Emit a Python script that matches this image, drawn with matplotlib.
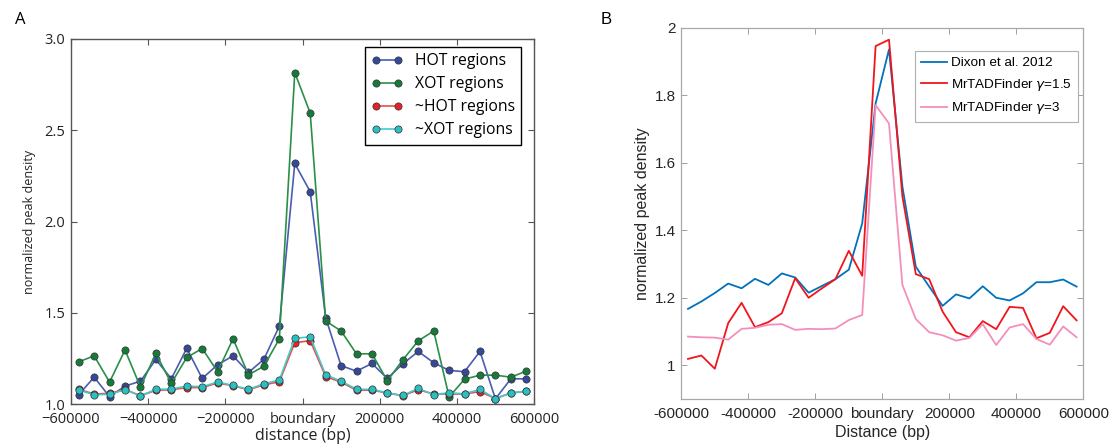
import matplotlib
matplotlib.use("Agg")
import matplotlib.pyplot as plt
import numpy as np

# ---------------- data ----------------
positions = [-580000, -540000, -500000, -460000, -420000, -380000, -340000, -300000,
             -260000, -220000, -180000, -140000, -100000, -60000, -20000, 20000,
             60000, 100000, 140000, 180000, 220000, 260000, 300000, 340000,
             380000, 420000, 460000, 500000, 540000, 580000]

hot = [1.051, 1.147, 1.040, 1.098, 1.125, 1.244, 1.138, 1.305, 1.140, 1.215,
       1.264, 1.173, 1.245, 1.427, 2.318, 2.163, 1.473, 1.210, 1.180, 1.222,
       1.140, 1.220, 1.288, 1.226, 1.184, 1.177, 1.288, 1.028, 1.138, 1.138]
xot = [1.231, 1.264, 1.120, 1.296, 1.093, 1.277, 1.113, 1.255, 1.304, 1.177,
       1.357, 1.160, 1.207, 1.357, 2.816, 2.594, 1.455, 1.400, 1.275, 1.275,
       1.127, 1.242, 1.346, 1.400, 1.039, 1.136, 1.158, 1.158, 1.147, 1.180]
not_hot = [1.080, 1.055, 1.058, 1.080, 1.045, 1.075, 1.078, 1.090, 1.090, 1.115,
           1.100, 1.078, 1.105, 1.122, 1.336, 1.347, 1.150, 1.120, 1.075, 1.076,
           1.060, 1.045, 1.078, 1.055, 1.055, 1.055, 1.068, 1.030, 1.060, 1.070]
not_xot = [1.076, 1.051, 1.053, 1.078, 1.045, 1.080, 1.082, 1.098, 1.095, 1.120,
           1.102, 1.080, 1.111, 1.131, 1.360, 1.368, 1.160, 1.125, 1.081, 1.080,
           1.061, 1.047, 1.085, 1.052, 1.061, 1.056, 1.080, 1.030, 1.061, 1.070]

dixon = [1.167, 1.189, 1.214, 1.242, 1.228, 1.256, 1.238, 1.272, 1.260, 1.215,
         1.235, 1.255, 1.283, 1.420, 1.775, 1.935, 1.529, 1.292, 1.233, 1.176,
         1.210, 1.198, 1.234, 1.200, 1.192, 1.213, 1.246, 1.246, 1.254, 1.233]
mr_15 = [1.019, 1.029, 0.990, 1.125, 1.185, 1.113, 1.128, 1.154, 1.258, 1.200,
         1.228, 1.255, 1.339, 1.265, 1.945, 1.964, 1.500, 1.270, 1.255, 1.159,
         1.098, 1.083, 1.131, 1.107, 1.173, 1.170, 1.080, 1.096, 1.175, 1.133]
mr_3 = [1.085, 1.083, 1.082, 1.076, 1.108, 1.111, 1.120, 1.122, 1.105, 1.108,
        1.107, 1.109, 1.134, 1.149, 1.770, 1.716, 1.238, 1.137, 1.098, 1.089,
        1.073, 1.081, 1.122, 1.060, 1.112, 1.122, 1.078, 1.061, 1.115, 1.083]

xticks = [-600000, -400000, -200000, 0, 200000, 400000, 600000]
xticklabels_a = ["\u2212600000", "\u2212400000", "\u2212200000", "boundary", "200000", "400000", "600000"]
xticklabels_b = ["-600000", "-400000", "-200000", "boundary", "200000", "400000", "600000"]
yticks_a = [1.0, 1.5, 2.0, 2.5, 3.0]
yticks_b = [1, 1.2, 1.4, 1.6, 1.8, 2]

# ---------------- figure ----------------
fig = plt.figure(figsize=(11.14, 4.45), dpi=100)

# ----- Panel A -----
fa = "Open Sans"
axA = fig.add_axes([71 / 1114, 1 - 404 / 445, 463 / 1114, 365 / 445])
series_a = [
    (hot, "HOT regions", "#34489c", "#4a5cb4"),
    (xot, "XOT regions", "#167a3a", "#2a9048"),
    (not_hot, "~HOT regions", "#e5222a", "#ee4a4f"),
    (not_xot, "~XOT regions", "#2bbfc0", "#45c9c9"),
]
for vals, lab, mc, lc in series_a:
    axA.plot(positions, vals, "-", color=lc, lw=1.2, marker="o", ms=5.2,
             mfc=mc, mec="#333333", mew=0.5, label=lab)
axA.set_xlim(-600000, 600000)
axA.set_ylim(1.0, 3.0)
axA.set_xticks(xticks)
axA.set_xticklabels(xticklabels_a, fontfamily=fa, fontsize=10.5, color="#222222")
axA.set_yticks(yticks_a)
axA.set_yticklabels(["%.1f" % v for v in yticks_a], fontfamily=fa, fontsize=10.5, color="#222222")
axA.tick_params(direction="in", top=True, right=True, length=4, width=0.8, color="#555555")
axA.tick_params(axis="x", pad=5.5)
axA.tick_params(axis="y", pad=4)
for s in axA.spines.values():
    s.set_color("#555555")
    s.set_linewidth(1.0)
axA.set_xlabel("distance (bp)", fontfamily=fa, fontsize=11.5, color="#222222", labelpad=1)
axA.set_ylabel("normalized peak density", fontfamily=fa, fontsize=9, color="#222222", labelpad=6)
legA = axA.legend(loc="upper right", numpoints=2, prop={"family": fa, "size": 11.3},
                  frameon=True, fancybox=False, edgecolor="black", framealpha=1,
                  borderpad=0.4, labelspacing=0.45, handlelength=2.0, borderaxespad=0,
                  bbox_to_anchor=(0.973, 0.978))
legA.get_frame().set_linewidth(1.0)
fig.text(15 / 1114, 1 - 20 / 445, "A", fontfamily=fa, fontsize=12, va="center", ha="left")

# ----- Panel B -----
fb = "Liberation Sans"
axB = fig.add_axes([681.3 / 1114, 1 - 399.1 / 445, 402 / 1114, 371.6 / 445])
axB.plot(positions, dixon, color="#0072bd", lw=1.3, label="Dixon et al. 2012")
axB.plot(positions, mr_15, color="#f0151c", lw=1.3, label=r"MrTADFinder $\gamma$=1.5")
axB.plot(positions, mr_3, color="#f48fbc", lw=1.3, label=r"MrTADFinder $\gamma$=3")
axB.set_xlim(-600000, 600000)
axB.set_ylim(0.9, 2.0)
axB.set_xticks(xticks)
axB.set_xticklabels(xticklabels_b, fontfamily=fb, fontsize=11, color="#262626")
axB.set_yticks(yticks_b)
axB.set_yticklabels(["1", "1.2", "1.4", "1.6", "1.8", "2"], fontfamily=fb, fontsize=11, color="#262626")
axB.tick_params(direction="in", top=True, right=True, length=4, width=0.7, color="#a0a0a0")
axB.tick_params(axis="x", pad=5.5)
axB.tick_params(axis="y", pad=4)
for s in axB.spines.values():
    s.set_color("#a8a8a8")
    s.set_linewidth(0.9)
axB.set_xlabel("Distance (bp)", fontfamily=fb, fontsize=11.5, color="#262626", labelpad=3)
axB.set_ylabel("normalized peak density", fontfamily=fb, fontsize=11.5, color="#262626", labelpad=3)
legB = axB.legend(loc="upper right", prop={"family": fb, "size": 9.7},
                  frameon=True, fancybox=False, edgecolor="#b0b0b0", framealpha=1,
                  borderpad=0.45, labelspacing=0.55, handlelength=1.9, handletextpad=0.3,
                  borderaxespad=0, bbox_to_anchor=(0.987, 0.937))
legB.get_frame().set_linewidth(0.8)
fig.text(601 / 1114, 1 - 20 / 445, "B", fontfamily=fb, fontsize=12, va="center", ha="left")

fig.savefig("out.png", dpi=100)
